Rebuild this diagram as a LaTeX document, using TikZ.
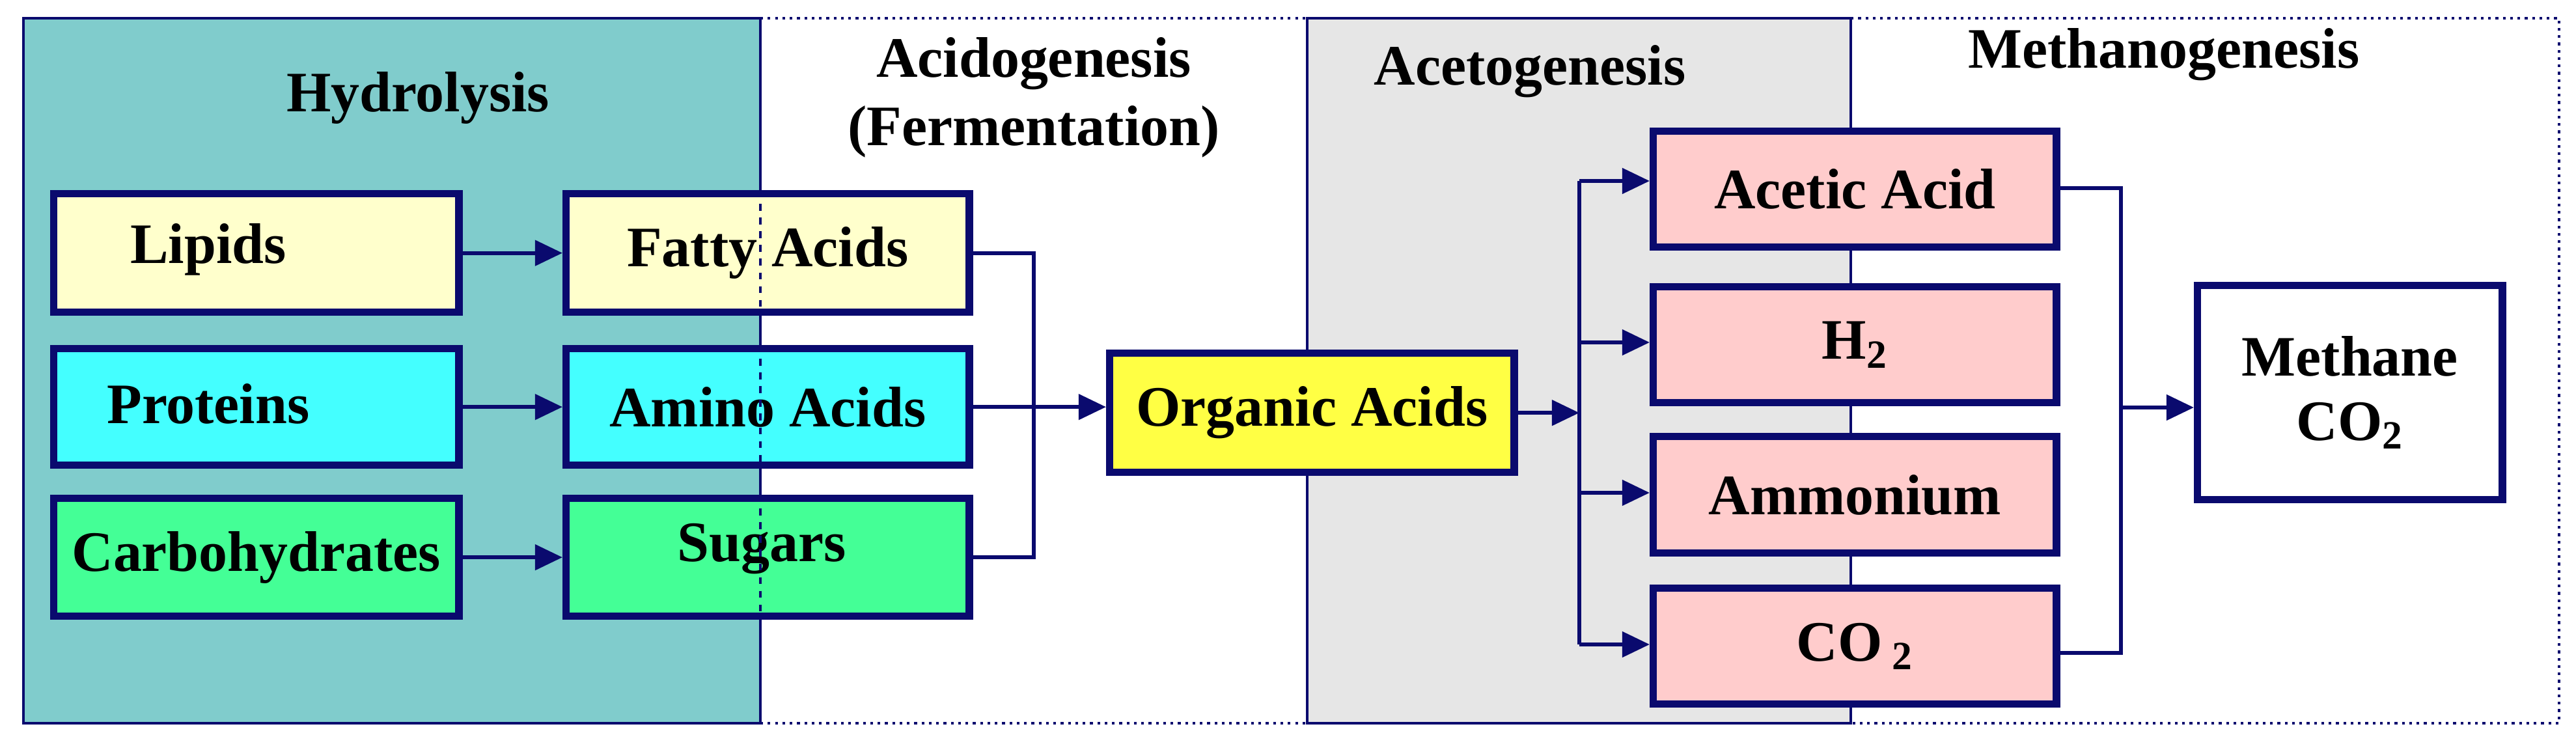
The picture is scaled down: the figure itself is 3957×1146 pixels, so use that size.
\documentclass[tikz,border=0pt]{standalone}
\usepackage{fontspec}
\setmainfont{Liberation Serif}
\usetikzlibrary{arrows.meta}
\definecolor{nv}{RGB}{10,10,110}
\definecolor{teal1}{RGB}{128,204,204}
\definecolor{lip}{RGB}{255,255,204}
\definecolor{pro}{RGB}{68,255,255}
\definecolor{carb}{RGB}{68,255,150}
\definecolor{org}{RGB}{255,255,68}
\definecolor{pink1}{RGB}{255,204,204}
\definecolor{gray1}{RGB}{230,230,230}
\begin{document}
\begin{tikzpicture}[x=0.01cm,y=-0.01cm,
 box/.style={draw=nv,line width=3.2pt,inner sep=0pt,font=\fontsize{25}{28}\selectfont\bfseries},
 lab/.style={font=\fontsize{25}{28}\selectfont\bfseries},
 ttl/.style={font=\fontsize{25}{30}\selectfont\bfseries,align=center},
 con/.style={draw=nv,line width=1.8pt},
 arr/.style={con,-{Triangle[length=12pt,width=11pt]}}]
\useasboundingbox (0,0) rectangle (3957,1146);
% panels
\fill[teal1] (36,28) rectangle (1168,1111);
\draw[nv,line width=1.2pt] (1168,28) -- (36,28) -- (36,1111) -- (1168,1111);
\draw[nv,line width=1.2pt,dotted] (1168,28) -- (2008,28) (1168,1111) -- (2008,1111);
\fill[gray1] (2008,28) rectangle (2843,1111);
\draw[nv,line width=1.2pt] (2008,28) rectangle (2843,1111);
\draw[nv,line width=1.2pt,dotted] (2843,28) -- (3931,28) -- (3931,1111) -- (2843,1111);
\draw[nv,line width=1.2pt] (1168,28) -- (1168,292) (1168,474) -- (1168,530) (1168,709) -- (1168,760) (1168,941) -- (1168,1111);
% titles
\node[ttl] (t1) at (642,150) {Hydrolysis};
\node[ttl] (t2) at (1588,150) {Acidogenesis\\(Fermentation)};
\node[ttl] (t3) at (2350,110) {Acetogenesis};
\node[ttl] (t4) at (3324,84) {Methanogenesis};
% boxes
\node[box,fill=lip,minimum width=6.22cm,minimum height=1.82cm,anchor=north west] (lip) at (77,292) {};
\node[lab] (liplab) at (320,383) {Lipids};
\node[box,fill=pro,minimum width=6.22cm,minimum height=1.79cm,anchor=north west] (pro) at (77,530) {};
\node[lab] (prolab) at (320,620) {Proteins};
\node[box,fill=carb,minimum width=6.22cm,minimum height=1.81cm,anchor=north west] (carb) at (77,760) {Carbohydrates};
\node[box,fill=lip,minimum width=6.19cm,minimum height=1.82cm,anchor=north west] (fa) at (864,292) {Fatty Acids};
\node[box,fill=pro,minimum width=6.19cm,minimum height=1.79cm,anchor=north west] (aa) at (864,530) {Amino Acids};
\node[box,fill=carb,minimum width=6.19cm,minimum height=1.81cm,anchor=north west] (sug) at (864,760) {};
\node[lab] (suglab) at (1170,843) {Sugars};
\draw[nv,line width=1.2pt,dashed] (1168,292) -- (1168,474) (1168,530) -- (1168,709) (1168,760) -- (1168,941);
\node[box,fill=org,minimum width=6.21cm,minimum height=1.83cm,anchor=north west] (oa) at (1699,537) {Organic Acids};
\node[box,fill=pink1,minimum width=6.19cm,minimum height=1.78cm,anchor=north west] (ac) at (2534,196) {Acetic Acid};
\node[box,fill=pink1,minimum width=6.19cm,minimum height=1.78cm,anchor=north west] (h2) at (2534,435) {H\textsubscript{2}};
\node[box,fill=pink1,minimum width=6.19cm,minimum height=1.79cm,anchor=north west] (am) at (2534,665) {Ammonium};
\node[box,fill=pink1,minimum width=6.19cm,minimum height=1.78cm,anchor=north west] (co) at (2534,898) {CO\,\textsubscript{2}};
\node[box,fill=white,minimum width=4.68cm,minimum height=3.29cm,anchor=north west,align=center] (me) at (3370,433) {Methane\\CO\textsubscript{2}};
% connectors
\draw[arr] (lip.east) -- (lip.east -| fa.west);
\draw[arr] (pro.east) -- (pro.east -| aa.west);
\draw[arr] (carb.east) -- (carb.east -| sug.west);
\coordinate (b1) at (1588,628);
\draw[con] (fa.east) -| (b1) |- (sug.east);
\draw[arr] (aa.east) -- (aa.east -| oa.west);
\coordinate (b2) at (2426,628);
\coordinate (b2t) at (2426,278);
\coordinate (b2b) at (2426,990);
\draw[arr] (oa.east) -- (oa.east -| b2);
\draw[con] (b2t) -- (b2b);
\draw[arr] (b2t) -- (b2t -| ac.west);
\draw[arr] (2426,526) -- (h2.west |- 0,526);
\draw[arr] (2426,757) -- (am.west |- 0,757);
\draw[arr] (b2b) -- (b2b -| co.west);
\coordinate (b3) at (3258,626);
\draw[con] (ac.east |- 0,289) -| (b3) |- (co.east |- 0,1003);
\draw[arr] (b3) -- (b3 -| me.west);
\end{tikzpicture}
\end{document}
